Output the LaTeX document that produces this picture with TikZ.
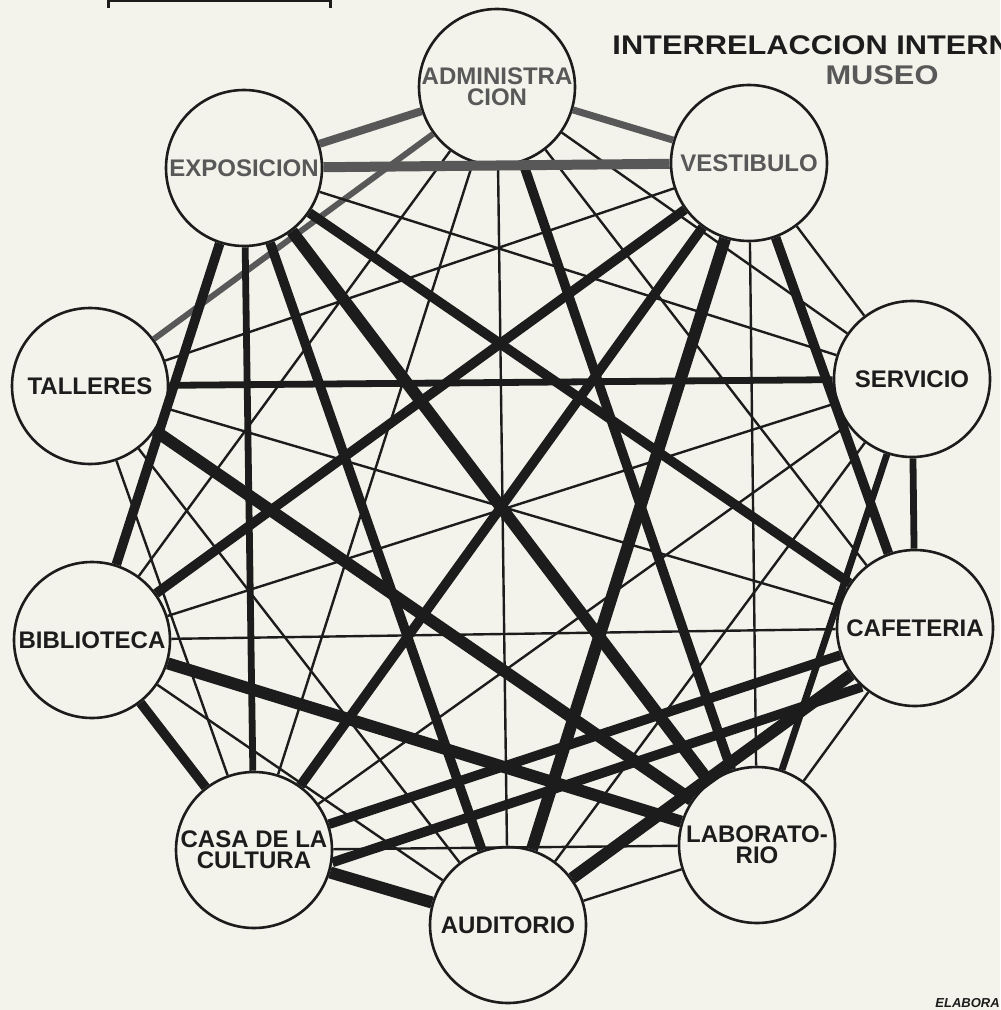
\documentclass[tikz,border=0pt]{standalone}
\usepackage{fontspec}
\setmainfont{Liberation Sans}
\definecolor{paper}{RGB}{243,243,236}
\definecolor{ink}{RGB}{28,28,28}
\definecolor{gink}{RGB}{88,88,88}
\begin{document}
\begin{tikzpicture}[x=0.5pt,y=-0.5pt,
  room/.style={circle,draw=ink,line width=1.3pt,minimum size=78pt,inner sep=0pt,align=center,
    font=\bfseries\fontsize{12}{10.5}\selectfont,text=ink},
  groom/.style={room,text=gink},
  relA/.style={draw=ink,line width=1.2pt},
  relB/.style={draw=ink,line width=3.4pt},
  relC/.style={draw=ink,line width=4.8pt},
  relD/.style={draw=ink,line width=6pt},
  grel/.style={draw=gink,line width=#1},
  titlefont/.style={font=\bfseries\fontsize{13.5}{16}\selectfont,text=ink,inner sep=0pt}]
\fill[paper] (0,0) rectangle (1000,1010);
\useasboundingbox (0,0) rectangle (1000,1010);

% rooms
\node[groom] (A) at (497,87) {ADMINISTRA\\CION};
\node[groom] (E) at (244,168) {EXPOSICION};
\node[groom] (V) at (749,163) {VESTIBULO};
\node[room] (T) at (90,386) {TALLERES};
\node[room] (S) at (912,379) {SERVICIO};
\node[room] (B) at (92,640) {BIBLIOTECA};
\node[room] (C) at (915,628) {CAFETERIA};
\node[room] (K) at (254,850) {CASA DE LA\\CULTURA};
\node[room] (L) at (757,845) {LABORATO-\\RIO};
\node[room] (U) at (508,925) {AUDITORIO};

% relations from ADMINISTRACION
\draw[grel=4pt] (A) -- (E);
\draw[grel=3.5pt] (A) -- (V);
\draw[grel=3pt] (A) -- (T);
\draw[relC] (A) -- (L);
\draw[relA] (A) -- (S);
\draw[relA] (A) -- (B);
\draw[relA] (A) -- (C);
\draw[relA] (A) -- (K);
\draw[relA] (A) -- (U);
% from EXPOSICION
\draw[grel=5pt] (E) -- (V);
\draw[relA] (E) -- (S);
\draw[relC] (E) -- (B);
\draw[relC] (E) -- (C);
\draw[relB] (E) -- (K);
\draw[relD] (E) -- (L);
\draw[relC] (E) -- (U);
% from VESTIBULO
\draw[relA] (V) -- (T);
\draw[relA] (V) -- (S);
\draw[relC] (V) -- (B);
\draw[relC] (V) -- (C);
\draw[relC] (V) -- (K);
\draw[relA] (V) -- (L);
\draw[relD] (V) -- (U);
% from TALLERES
\draw[relB] (T) -- (S);
\draw[relA] (T) -- (C);
\draw[relA] (T) -- (K);
\draw[relD] (T) -- (L);
\draw[relA] (T) -- (U);
% from SERVICIO
\draw[relA] (S) -- (B);
\draw[relB] (S) -- (C);
\draw[relA] (S) -- (K);
\draw[relB] (S) -- (L);
\draw[relA] (S) -- (U);
% from BIBLIOTECA
\draw[relA] (B) -- (C);
\draw[relC] (B) -- (K);
\draw[relD] (B) -- (L);
\draw[relA] (B) -- (U);
% from CAFETERIA
\draw[relC] (C.200) -- (K.19);
\draw[relC] (C.228) -- (K.-9);
\draw[relA] (C) -- (L);
\draw[relD] (C) -- (U);
% from CASA DE LA CULTURA
\draw[relA] (K) -- (L);
\draw[relD] (K) -- (U);
% from LABORATORIO
\draw[relA] (L) -- (U);

% title and marks
\node[titlefont,anchor=west,xscale=1.14] (title) at (612,45) {INTERRELACCION INTERN};
\node[titlefont,text=gink,xscale=1.14] (museo) at (882,75) {MUSEO};
\draw[ink,line width=1.5pt] (108,8) -- (108,1) -- (330,1) -- (330,8);
\node[anchor=west,inner sep=0pt,text=ink,font=\bfseries\itshape\fontsize{6.5}{7}\selectfont] (elab) at (935,1003) {ELABORA};
\end{tikzpicture}
\end{document}
